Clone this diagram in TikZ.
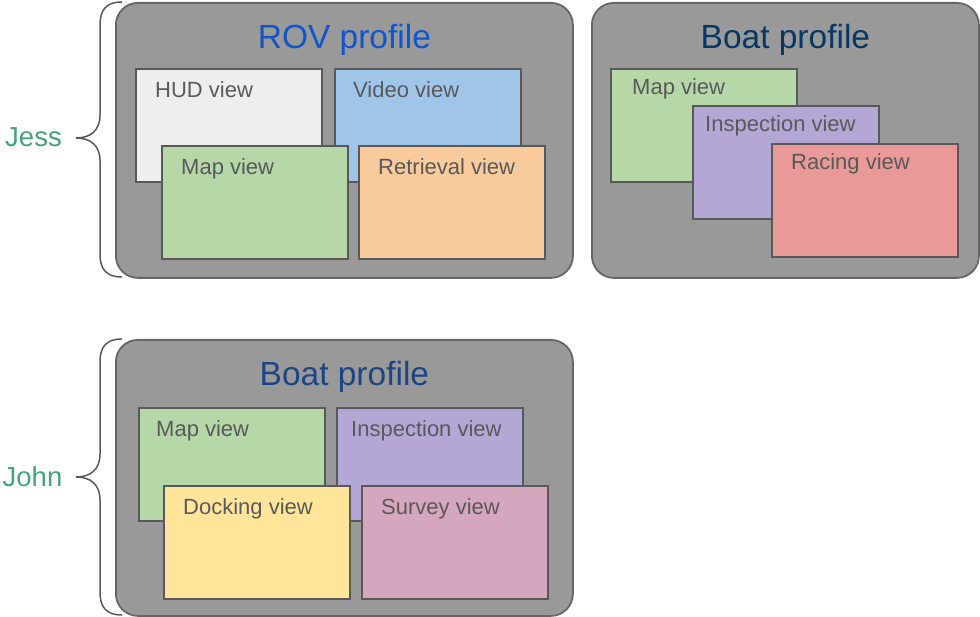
\documentclass[tikz,border=0pt]{standalone}
\usepackage{fontspec}
\setmainfont{Liberation Sans}
\usepackage{tikz}

\definecolor{profilefill}{HTML}{999999}
\definecolor{profileline}{HTML}{666666}
\definecolor{viewline}{HTML}{595959}
\definecolor{viewtext}{HTML}{595959}
\definecolor{hudfill}{HTML}{EEEEEE}
\definecolor{videofill}{HTML}{9FC5E8}
\definecolor{mapfill}{HTML}{B6D7A8}
\definecolor{retrievalfill}{HTML}{F9CB9C}
\definecolor{inspectionfill}{HTML}{B4A7D6}
\definecolor{racingfill}{HTML}{EA9999}
\definecolor{dockingfill}{HTML}{FFE599}
\definecolor{surveyfill}{HTML}{D5A6BD}
\definecolor{rovblue}{HTML}{1155CC}
\definecolor{boatnavy}{HTML}{073763}
\definecolor{boatblue}{HTML}{1C4587}
\definecolor{usergreen}{HTML}{45A27B}

\begin{document}
\begin{tikzpicture}[x=1pt, y=-1pt,
	profile/.style={draw=profileline, line width=1.8pt, fill=profilefill, rounded corners=22pt,
		minimum height=275pt, anchor=north west, inner sep=0pt},
	view/.style={draw=viewline, line width=1.8pt, minimum width=186pt, minimum height=113pt,
		anchor=north west, inner sep=0pt},
	viewlabel/.style={anchor=base west, inner sep=0pt, xshift=#1, yshift=-29.5pt,
		text=viewtext, font=\fontsize{22}{26}\selectfont},
	viewlabel/.default=20pt,
	titlelabel/.style={anchor=base, inner sep=0pt, yshift=-47pt, font=\fontsize{33.5}{40}\selectfont},
	user/.style={anchor=base, inner sep=0pt, text=usergreen, font=\fontsize{27.5}{33}\selectfont},
	userbrace/.style={draw=viewline, line width=1.5pt}
	]
	\useasboundingbox (0,0) rectangle (980,617);

	% Jess: ROV profile
	\node[profile, minimum width=457pt,
		label={[titlelabel, text=rovblue]north:ROV profile}] (rov) at (115,2) {};
	\node[view, fill=hudfill, label={[viewlabel]north west:HUD view}] (rovhud) at (135,68) {};
	\node[view, fill=videofill, label={[viewlabel=19pt]north west:Video view}] (rovvideo) at (334,68) {};
	\node[view, fill=mapfill, label={[viewlabel]north west:Map view}] (rovmap) at (161,145) {};
	\node[view, fill=retrievalfill, label={[viewlabel]north west:Retrieval view}] (rovretrieval) at (358,145) {};

	% Jess: Boat profile
	\node[profile, minimum width=387pt,
		label={[titlelabel, text=boatnavy]north:Boat profile}] (boat) at (591,2) {};
	\node[view, fill=mapfill, label={[viewlabel=22pt, yshift=2.5pt]north west:Map view}] (boatmap) at (610,68) {};
	\node[view, fill=inspectionfill, label={[viewlabel=13pt, yshift=2.5pt]north west:Inspection view}] (boatinspection) at (692,105) {};
	\node[view, fill=racingfill, label={[viewlabel, yshift=2.5pt]north west:Racing view}] (boatracing) at (771,143) {};

	% John: Boat profile
	\node[profile, minimum width=457pt, minimum height=276pt,
		label={[titlelabel, text=boatblue]north:Boat profile}] (johnboat) at (115,339) {};
	\node[view, fill=mapfill, label={[viewlabel=18pt]north west:Map view}] (johnmap) at (138,407) {};
	\node[view, fill=inspectionfill, label={[viewlabel=15pt]north west:Inspection view}] (johninspection) at (336,407) {};
	\node[view, fill=dockingfill, label={[viewlabel]north west:Docking view}] (johndocking) at (163,485) {};
	\node[view, fill=surveyfill, label={[viewlabel]north west:Survey view}] (johnsurvey) at (361,485) {};

	% braces and users
	\draw[userbrace] (122,2) .. controls (106,2) and (100,10) .. (100,25) -- (100,115)
		.. controls (100,131) and (90,138) .. (76,138) .. controls (90,138) and (100,145) .. (100,161)
		-- (100,254) .. controls (100,269) and (106,277) .. (122,277);
	\draw[userbrace] (122,339) .. controls (106,339) and (100,347) .. (100,362) -- (100,454)
		.. controls (100,470) and (90,477) .. (76,477) .. controls (90,477) and (100,484) .. (100,500)
		-- (100,592) .. controls (100,607) and (106,615) .. (122,615);
	\node[user] (jess) at (33.5,147) {Jess};
	\node[user] (john) at (32.5,486) {John};
\end{tikzpicture}
\end{document}
